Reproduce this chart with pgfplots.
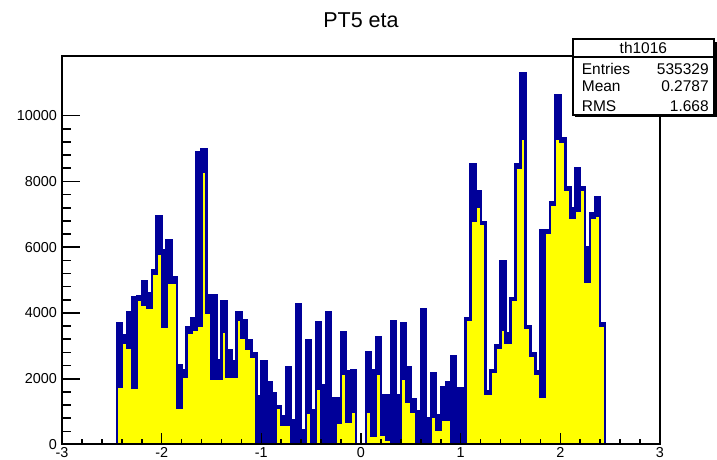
\documentclass[border=0pt]{standalone}
\usepackage{fontspec}
\setmainfont{Liberation Sans}
\usepackage{pgfplots}
\usepackage{pgfplotstable}
\pgfplotsset{compat=1.18}

\definecolor{rootnavy}{RGB}{0,0,153}
\definecolor{rootyellow}{RGB}{255,255,0}

% eta histogram, 0.05 wide bins (left edges); last row closes the final bin
\pgfplotstableread{
x      total  sel
-2.45  3680   1760
-2.40  3330   3080
-2.35  4010   2950
-2.30  4490   1710
-2.25  4500   4400
-2.20  4970   4250
-2.15  4590   4150
-2.10  5290   5200
-2.05  6930   5810
-2.00  5900   3580
-1.95  6220   4900
-1.90  5100   4900
-1.85  2420   1100
-1.80  2270   2050
-1.75  3580   3400
-1.70  3840   3500
-1.65  8900   3600
-1.60  8970   8300
-1.55  4550   4000
-1.50  4550   2010
-1.45  2570   2010
-1.40  4350   3430
-1.35  2870   2060
-1.30  2520   2060
-1.25  4020   3780
-1.20  3780   3230
-1.15  3180   2900
-1.10  2770   2670
-1.05  1470   0
-1.00  2540   0
-0.95  1890   0
-0.90  1560   0
-0.85  1150   1100
-0.80  850    600
-0.75  2350   600
-0.70  750    0
-0.65  4270   0
-0.60  440    0
-0.55  3180   950
-0.50  1050   0
-0.45  3730   1700
-0.40  1800   0
-0.35  4010   0
-0.30  1400   0
-0.25  1400   650
-0.20  3430   2160
-0.15  2240   700
-0.10  2250   1000
-0.05  0      0
 0.00  0      0
 0.05  2800   1000
 0.10  2270   250
 0.15  3270   2150
 0.20  1500   300
 0.25  1500   150
 0.30  3760   0
 0.35  1500   0
 0.40  3680   2000
 0.45  2350   1300
 0.50  1370   1000
 0.55  1000   0
 0.60  4110   0
 0.65  800    0
 0.70  2180   850
 0.75  900    450
 0.80  1740   750
 0.85  1880   750
 0.90  2700   0
 0.95  1710   0
 1.00  1710   0
 1.05  3840   3800
 1.10  8520   6800
 1.15  7690   7230
 1.20  6770   6700
 1.25  1610   1550
 1.30  2260   2200
 1.35  3020   2950
 1.40  5560   3500
 1.45  3380   3100
 1.50  4440   4400
 1.55  8520   8400
 1.60  11280  9300
 1.65  3610   3550
 1.70  2770   2700
 1.75  2240   2150
 1.80  6520   1450
 1.85  6520   6450
 1.90  7380   7300
 1.95  10620  9300
 2.00  9300   9200
 2.05  7840   7750
 2.10  7180   6900
 2.15  8400   7100
 2.20  7840   7750
 2.25  6000   4950
 2.30  7030   6900
 2.35  7530   6950
 2.40  3680   3600
 2.45  3680   3600
}\etadata

\begin{document}
\begin{tikzpicture}[x=1pt,y=1pt]
\path[use as bounding box] (-62,-15.5) rectangle (655,444.5);
\begin{axis}[
  at={(0,0)}, anchor=south west,
  scale only axis, width=598pt, height=388pt,
  xmin=-3, xmax=3, ymin=0, ymax=11800,
  axis on top,
  axis line style={line width=2pt},
  tick align=inside,
  scaled y ticks=false,
  xtick={-3,-2,-1,0,1,2,3},
  xticklabels={-3,-2,-1,0,1,2,3},
  minor x tick num=4,
  ytick={0,2000,4000,6000,8000,10000},
  yticklabels={0,2000,4000,6000,8000,10000},
  minor y tick num=4,
  xtick pos=bottom, ytick pos=left,
  major tick length=17.7pt, minor tick length=8.8pt,
  xtick style={/pgfplots/major tick length=11.6pt, /pgfplots/minor tick length=5.8pt},
  tick style={line width=1.6pt, black},
  ticklabel style={font=\fontsize{14.4}{14.4}\selectfont},
  xticklabel style={inner sep=0pt, yshift=-3pt},
  yticklabel style={inner sep=0pt, xshift=-5pt},
]
\addplot[const plot, mark=none, fill=rootnavy, draw=rootnavy, line width=2.4pt, line join=miter]
  table[x=x, y=total]{\etadata} \closedcycle;
\addplot[const plot, mark=none, fill=rootyellow, draw=rootnavy, line width=2.2pt, line join=miter]
  table[x=x, y=sel]{\etadata} \closedcycle;
\end{axis}

% title
\node[font=\fontsize{21.5}{21.5}\selectfont] at (299,424.5) {PT5 eta};

% statistics box with shadow
\fill[black] (513.2,327.0) rectangle (654.7,402.7);
\filldraw[fill=white, draw=black, line width=2pt] (510.7,329.5) rectangle (652.2,405.2);
\draw[line width=2pt] (510.7,387.8) -- (652.2,387.8);
\begin{scope}[font=\fontsize{15.5}{15.5}\selectfont]
\node at (581.4,396.5) {th1016};
\node[anchor=west] at (516.3,375.5) {Entries};
\node[anchor=east] at (650.2,375.5) {535329};
\node[anchor=west] at (516.3,358.5) {Mean};
\node[anchor=east] at (650.2,358.5) {0.2787};
\node[anchor=west] at (516.3,338.5) {RMS};
\node[anchor=east] at (650.2,338.5) {1.668};
\end{scope}
\end{tikzpicture}
\end{document}
